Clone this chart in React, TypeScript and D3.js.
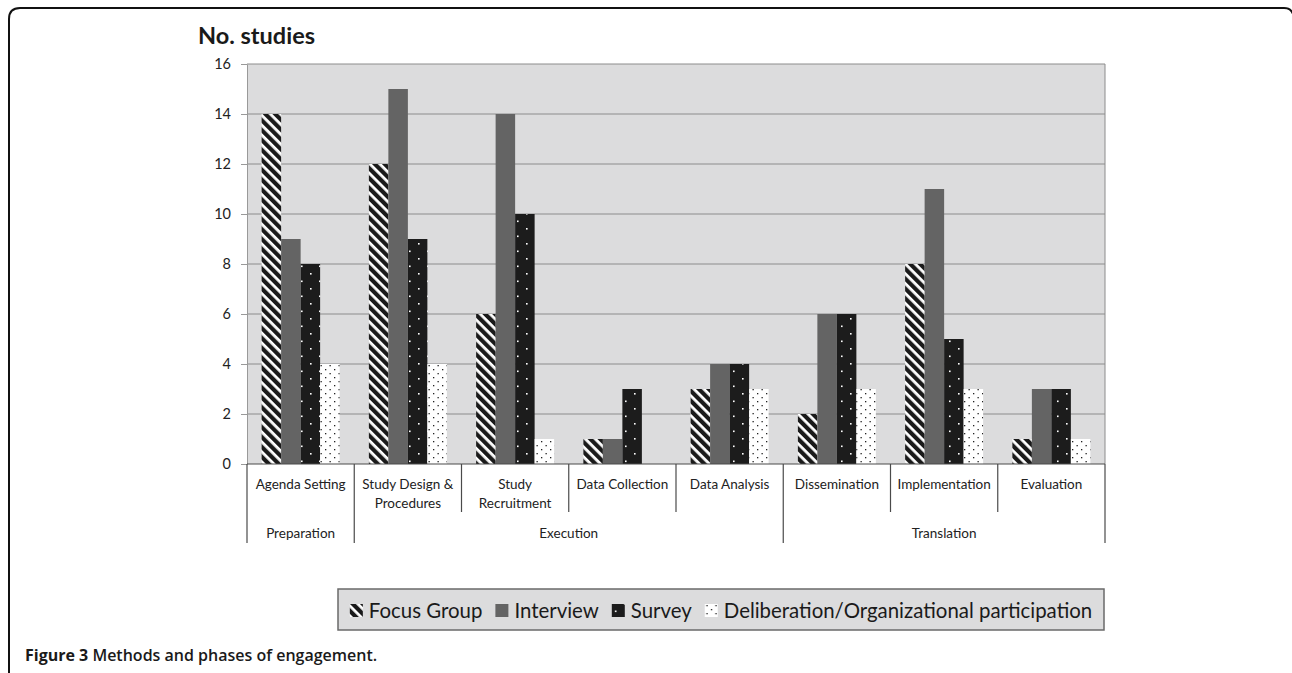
import { useEffect, useRef } from "react";
import * as d3 from "d3";

// chart data
const categories = [
  "Agenda Setting",
  "Study Design & Procedures",
  "Study Recruitment",
  "Data Collection",
  "Data Analysis",
  "Dissemination",
  "Implementation",
  "Evaluation",
];
const categoryLines = [
  ["Agenda Setting"],
  ["Study Design &", "Procedures"],
  ["Study", "Recruitment"],
  ["Data Collection"],
  ["Data Analysis"],
  ["Dissemination"],
  ["Implementation"],
  ["Evaluation"],
];
const phaseOf = [
  "Preparation",
  "Execution",
  "Execution",
  "Execution",
  "Execution",
  "Translation",
  "Translation",
  "Translation",
];
const phases = ["Preparation", "Execution", "Translation"];
const seriesNames = [
  "Focus Group",
  "Interview",
  "Survey",
  "Deliberation/Organizational participation",
];
const focusGroup = [14, 12, 6, 1, 3, 2, 8, 1];
const interview = [9, 15, 14, 1, 4, 6, 11, 3];
const survey = [8, 9, 10, 3, 4, 6, 5, 3];
const deliberation = [4, 4, 1, 0, 3, 3, 3, 1];
const yTicks = [0, 2, 4, 6, 8, 10, 12, 14, 16];

const W = 1292;
const H = 673;
const plotLeft = 247;
const plotRight = 1105;
const plotTop = 64;
const plotBottom = 464;
const font = "Lato, 'Open Sans', sans-serif";

const fills = ["url(#pFocus)", "#646464", "url(#pSurvey)", "url(#pDelib)"];

const App = () => {
  const ref = useRef<SVGSVGElement>(null);

  useEffect(() => {
    const svg = d3.select(ref.current);
    svg.selectAll("*").remove();

    // patterns
    const defs = svg.append("defs");
    const pf = defs
      .append("pattern")
      .attr("id", "pFocus")
      .attr("patternUnits", "userSpaceOnUse")
      .attr("width", 7)
      .attr("height", 7)
      .attr("patternTransform", "rotate(-45)");
    pf.append("rect").attr("width", 7).attr("height", 7).attr("fill", "#fff");
    pf.append("rect").attr("width", 4.2).attr("height", 7).attr("fill", "#1a1a1a");

    const ps = defs
      .append("pattern")
      .attr("id", "pSurvey")
      .attr("patternUnits", "userSpaceOnUse")
      .attr("width", 18)
      .attr("height", 15);
    ps.append("rect").attr("width", 18).attr("height", 15).attr("fill", "#1c1c1c");
    ps.append("rect").attr("x", 4).attr("y", 3).attr("width", 1.6).attr("height", 1.6).attr("fill", "#fff");
    ps.append("rect").attr("x", 13).attr("y", 10.5).attr("width", 1.6).attr("height", 1.6).attr("fill", "#fff");

    const pd = defs
      .append("pattern")
      .attr("id", "pDelib")
      .attr("patternUnits", "userSpaceOnUse")
      .attr("width", 9)
      .attr("height", 8);
    pd.append("rect").attr("width", 9).attr("height", 8).attr("fill", "#fff");
    pd.append("rect").attr("x", 1).attr("y", 1).attr("width", 1.3).attr("height", 1.3).attr("fill", "#222");
    pd.append("rect").attr("x", 5.5).attr("y", 5).attr("width", 1.3).attr("height", 1.3).attr("fill", "#222");

    // outer frame
    svg
      .append("path")
      .attr("d", `M9,${H} L9,19 Q9,8 20,8 L1284,8 Q1291,8 1293,14`)
      .attr("fill", "none")
      .attr("stroke", "#111")
      .attr("stroke-width", 2);

    const x = d3.scaleBand().domain(categories).range([plotLeft, plotRight]);
    const inner = d3
      .scaleBand()
      .domain(seriesNames)
      .range([0, x.bandwidth()])
      .paddingOuter(0.75);
    const y = d3.scaleLinear().domain([0, 16]).range([plotBottom, plotTop]);

    // plot background
    svg
      .append("rect")
      .attr("x", plotLeft)
      .attr("y", plotTop)
      .attr("width", plotRight - plotLeft)
      .attr("height", plotBottom - plotTop)
      .attr("fill", "#dcdcdd");

    // gridlines
    svg
      .append("g")
      .selectAll("line")
      .data(yTicks.filter((t) => t > 0))
      .join("line")
      .attr("x1", plotLeft)
      .attr("x2", plotRight)
      .attr("y1", (d) => y(d))
      .attr("y2", (d) => y(d))
      .attr("stroke", "#8c8c8c")
      .attr("stroke-width", 1);

    // y axis
    const yAxis = svg
      .append("g")
      .attr("transform", `translate(${plotLeft},0)`)
      .call(d3.axisLeft(y).tickValues(yTicks).tickSize(6).tickSizeOuter(0).tickPadding(10));
    yAxis.select(".domain").attr("stroke", "#999");
    yAxis.selectAll(".tick line").attr("stroke", "#999");
    yAxis
      .selectAll("text")
      .attr("font-family", font)
      .attr("font-size", 14.5)
      .attr("fill", "#222");

    // plot right border
    svg
      .append("line")
      .attr("x1", plotRight)
      .attr("x2", plotRight)
      .attr("y1", plotTop)
      .attr("y2", plotBottom)
      .attr("stroke", "#8c8c8c");

    // bars
    const seriesData = [focusGroup, interview, survey, deliberation];
    seriesData.forEach((vals, si) => {
      svg
        .append("g")
        .selectAll("rect")
        .data(vals)
        .join("rect")
        .attr("x", (_, i) => (x(categories[i]) as number) + (inner(seriesNames[si]) as number))
        .attr("y", (d) => y(d))
        .attr("width", inner.bandwidth())
        .attr("height", (d) => plotBottom - y(d))
        .attr("fill", fills[si]);
    });

    // x axis baseline
    svg
      .append("line")
      .attr("x1", plotLeft)
      .attr("x2", plotRight)
      .attr("y1", plotBottom)
      .attr("y2", plotBottom)
      .attr("stroke", "#4a4a4a")
      .attr("stroke-width", 1.2);

    // category dividers
    const boundaries = categories.map((c, i) => ({
      xPos: x(c) as number,
      phaseStart: i === 0 || phaseOf[i] !== phaseOf[i - 1],
    }));
    boundaries.push({ xPos: plotRight, phaseStart: true });
    svg
      .append("g")
      .selectAll("line")
      .data(boundaries)
      .join("line")
      .attr("x1", (d) => d.xPos)
      .attr("x2", (d) => d.xPos)
      .attr("y1", plotBottom)
      .attr("y2", (d) => (d.phaseStart ? 543 : 512))
      .attr("stroke", "#4a4a4a")
      .attr("stroke-width", 1.2);

    // category labels
    const catG = svg.append("g");
    categoryLines.forEach((lines, i) => {
      const cx = (x(categories[i]) as number) + x.bandwidth() / 2;
      lines.forEach((ln, li) => {
        catG
          .append("text")
          .attr("x", cx)
          .attr("y", 489 + li * 19)
          .attr("text-anchor", "middle")
          .attr("font-family", font)
          .attr("font-size", 13.5)
          .attr("fill", "#222")
          .text(ln);
      });
    });

    // phase labels
    phases.forEach((p) => {
      const idx = phaseOf.map((q, i) => (q === p ? i : -1)).filter((i) => i >= 0);
      const x0 = x(categories[idx[0]]) as number;
      const x1 = (x(categories[idx[idx.length - 1]]) as number) + x.bandwidth();
      svg
        .append("text")
        .attr("x", (x0 + x1) / 2)
        .attr("y", 538)
        .attr("text-anchor", "middle")
        .attr("font-family", font)
        .attr("font-size", 13.5)
        .attr("fill", "#222")
        .text(p);
    });

    // title
    svg
      .append("text")
      .attr("x", 198)
      .attr("y", 44)
      .attr("font-family", font)
      .attr("font-size", 23.5)
      .attr("font-weight", "bold")
      .attr("fill", "#1a1a1a")
      .text("No. studies");

    // legend
    const legX = 338;
    const legW = 1104 - 338;
    svg
      .append("rect")
      .attr("x", legX)
      .attr("y", 589)
      .attr("width", legW)
      .attr("height", 41)
      .attr("fill", "#dcdcdd")
      .attr("stroke", "#6a6a6a")
      .attr("stroke-width", 1.5);
    const legG = svg.append("g");
    const mk = 13;
    const mkGap = 6;
    const itemGap = 13;
    const texts = seriesNames.map((name) =>
      legG
        .append("text")
        .attr("y", 618)
        .attr("font-family", font)
        .attr("font-size", 20)
        .attr("fill", "#1a1a1a")
        .text(name)
    );
    const w20 = d3.sum(texts, (t) => (t.node() as SVGTextElement).getComputedTextLength());
    const fixed = seriesNames.length * (mk + mkGap) + (seriesNames.length - 1) * itemGap;
    const fs = Math.min(23, (20 * (743 - fixed)) / w20);
    texts.forEach((t) => t.attr("font-size", fs));
    let cursor = 0;
    texts.forEach((t, si) => {
      legG
        .append("rect")
        .attr("x", cursor)
        .attr("y", 604)
        .attr("width", mk)
        .attr("height", mk)
        .attr("fill", fills[si]);
      t.attr("x", cursor + mk + mkGap);
      cursor += mk + mkGap + (t.node() as SVGTextElement).getComputedTextLength() + itemGap;
    });
    const total = cursor - itemGap;
    legG.attr("transform", `translate(${legX + (legW - total) / 2},0)`);

    // caption
    const cap = svg
      .append("text")
      .attr("x", 25)
      .attr("y", 661)
      .attr("font-family", "'Open Sans', sans-serif")
      .attr("font-size", 16)
      .attr("font-weight", "bold")
      .attr("fill", "#1a1a1a");
    cap.append("tspan").text("Figure 3");
    cap.append("tspan").attr("font-weight", 600).text(" Methods and phases of engagement.");
  }, []);

  return (
    <svg
      ref={ref}
      width={W}
      height={H}
      viewBox={`0 0 ${W} ${H}`}
      style={{ position: "absolute", left: 0, top: 0, background: "#fff" }}
    />
  );
};

export default App;
